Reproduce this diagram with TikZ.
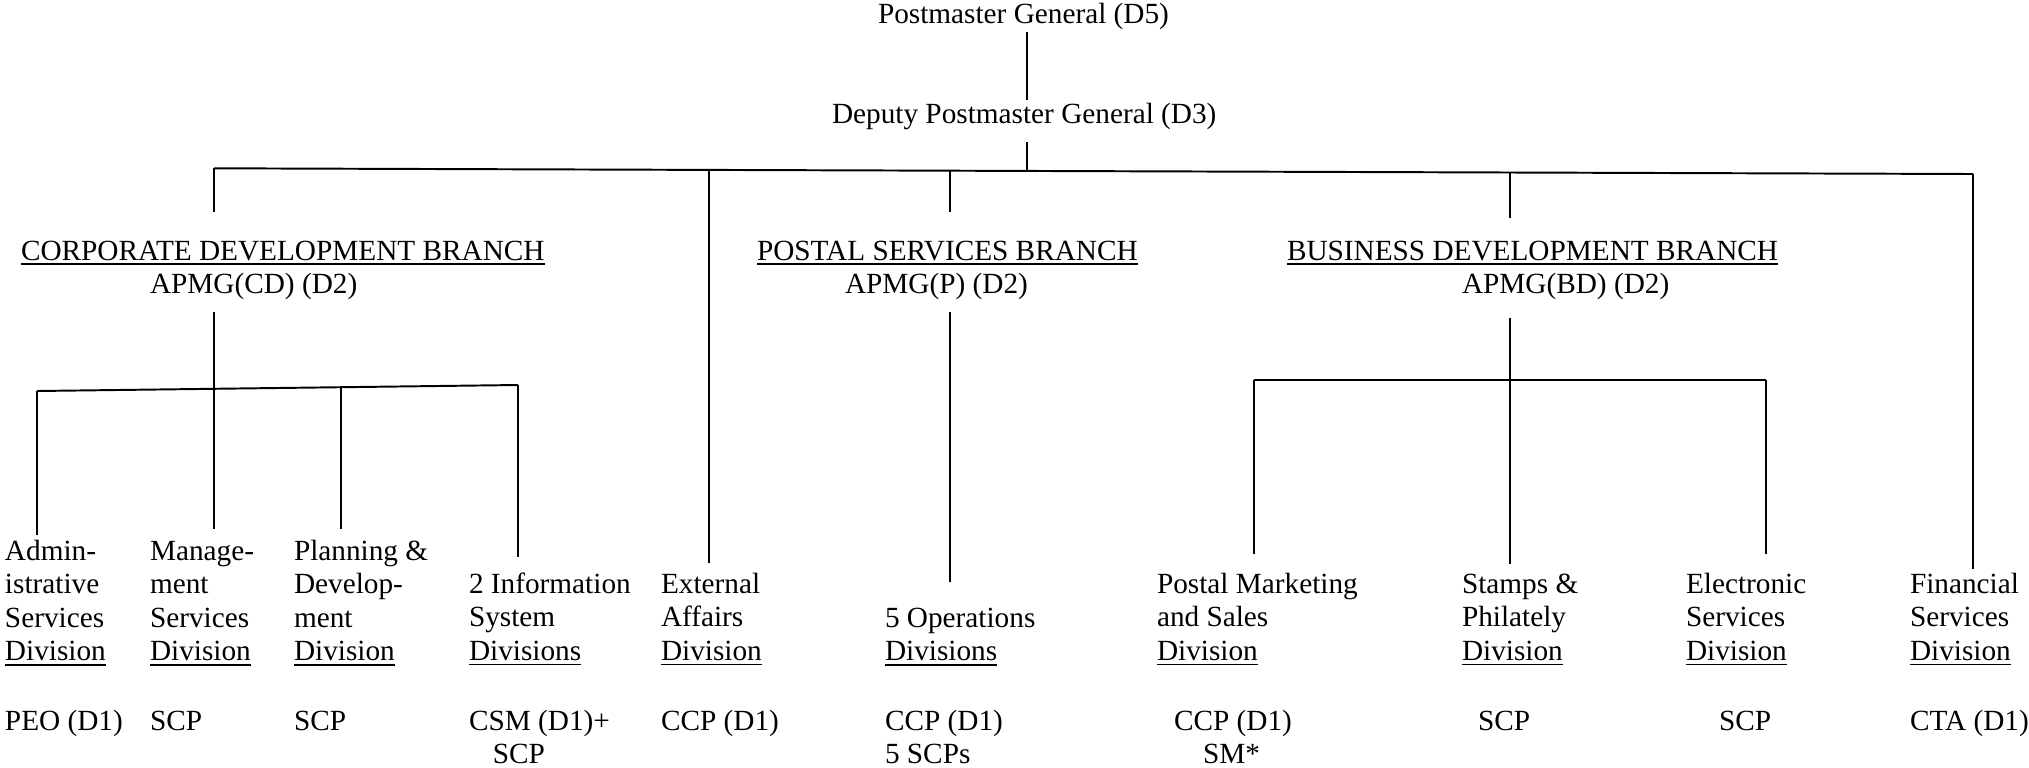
\documentclass[tikz,border=0pt]{standalone}
\usepackage{fontspec}
\setmainfont{Liberation Serif}
\newcommand{\uln}[1]{\setbox0\hbox{#1}\rlap{\rule[-2.1pt]{\wd0}{0.8pt}}\box0}
\newcommand{\divtext}[1]{\begin{tabular}[t]{@{}l@{}}#1\end{tabular}}
\tikzset{
  lbl/.style={anchor=base west, inner sep=0pt, outer sep=0pt, font=\fontsize{12}{13.8}\selectfont},
  conn/.style={line width=0.6pt},
  bar/.style={line width=0.8pt}
}
\begin{document}
\begin{tikzpicture}[x=0.41pt,y=-0.41pt]
\useasboundingbox (0,0) rectangle (2029,767);
% top levels
\node[lbl] (pmg) at (878,23) {Postmaster General (D5)};
\node[lbl] (dpmg) at (832,123) {Deputy Postmaster General (D3)};
% branches
\node[lbl] (cd) at (21,260) {\uln{CORPORATE DEVELOPMENT BRANCH}};
\node[lbl] (cdh) at (150,293) {APMG(CD) (D2)};
\node[lbl] (ps) at (757,260) {\uln{POSTAL SERVICES BRANCH}};
\node[lbl] (psh) at (845,293) {APMG(P) (D2)};
\node[lbl] (bd) at (1287,260) {\uln{BUSINESS DEVELOPMENT BRANCH}};
\node[lbl] (bdh) at (1462,293) {APMG(BD) (D2)};
% divisions
\node[lbl] (adm) at (5,560) {\divtext{Admin-\\istrative\\Services\\\uln{Division}}};
\node[lbl] (mgt) at (150,560) {\divtext{Manage-\\ment\\Services\\\uln{Division}}};
\node[lbl] (pln) at (294,560) {\divtext{Planning \&\\Develop-\\ment\\\uln{Division}}};
\node[lbl] (inf) at (469,593) {\divtext{2 Information\\System\\\uln{Divisions}}};
\node[lbl] (ext) at (661,593) {\divtext{External\\Affairs\\\uln{Division}}};
\node[lbl] (ops) at (885,627) {\divtext{5 Operations\\\uln{Divisions}}};
\node[lbl] (pms) at (1157,593) {\divtext{Postal Marketing\\and Sales\\\uln{Division}}};
\node[lbl] (stp) at (1462,593) {\divtext{Stamps \&\\Philately\\\uln{Division}}};
\node[lbl] (ele) at (1686,593) {\divtext{Electronic\\Services\\\uln{Division}}};
\node[lbl] (fin) at (1910,593) {\divtext{Financial\\Services\\\uln{Division}}};
% staff
\node[lbl] (admS) at (5,730) {PEO (D1)};
\node[lbl] (mgtS) at (150,730) {SCP};
\node[lbl] (plnS) at (294,730) {SCP};
\node[lbl] (infS) at (469,730) {\divtext{CSM (D1)+\\\hspace*{9.8pt}SCP}};
\node[lbl] (extS) at (661,730) {CCP (D1)};
\node[lbl] (opsS) at (885,730) {\divtext{CCP (D1)\\5 SCPs}};
\node[lbl] (pmsS) at (1174,730) {\divtext{CCP (D1)\\\hspace*{11.9pt}SM*}};
\node[lbl] (stpS) at (1478,730) {SCP};
\node[lbl] (eleS) at (1719,730) {SCP};
\node[lbl] (finS) at (1910,730) {CTA (D1)};
% connector coordinates
\coordinate (pmgB) at (1027,32);
\coordinate (dpmgT) at (1027,100);
\coordinate (dpmgB) at (1027,142);
\coordinate (dpmgJ) at (1027,171);
\coordinate (tL) at (214,168.3);
\coordinate (tExt) at (709,169.9);
\coordinate (tPS) at (950,170.7);
\coordinate (tBD) at (1510,172.6);
\coordinate (tR) at (1973,174);
\coordinate (cdT) at (214,212);
\coordinate (psT) at (950,212);
\coordinate (bdT) at (1510,218);
\coordinate (cdB) at (214,312);
\coordinate (psB) at (950,312);
\coordinate (bdB) at (1510,318);
\coordinate (cdL) at (37,391);
\coordinate (cdP) at (341,386.4);
\coordinate (cdR) at (518,385);
\coordinate (admT) at (37,535);
\coordinate (mgtT) at (214,529);
\coordinate (plnT) at (341,529);
\coordinate (infT) at (518,557);
\coordinate (extT) at (709,563);
\coordinate (opsT) at (950,582);
\coordinate (bdL) at (1254,380);
\coordinate (bdR) at (1766,380);
\coordinate (pmsT) at (1254,554);
\coordinate (stpT) at (1510,564);
\coordinate (eleT) at (1766,554);
\coordinate (finT) at (1973,569);
% connectors
\draw[conn] (pmgB) -- (dpmgT);
\draw[conn] (dpmgB) -- (dpmgJ);
\draw[bar] (tL) -- (tR);
\draw[conn] (tL) -- (cdT);
\draw[conn] (tExt) -- (extT);
\draw[conn] (tPS) -- (psT);
\draw[conn] (tBD) -- (bdT);
\draw[conn] (tR) -- (finT);
\draw[conn] (cdB) -- (mgtT);
\draw[bar] (cdL) -- (cdR);
\draw[conn] (cdL) -- (admT);
\draw[conn] (cdP) -- (plnT);
\draw[conn] (cdR) -- (infT);
\draw[conn] (psB) -- (opsT);
\draw[conn] (bdB) -- (stpT);
\draw[bar] (bdL) -- (bdR);
\draw[conn] (bdL) -- (pmsT);
\draw[conn] (bdR) -- (eleT);
\end{tikzpicture}
\end{document}
